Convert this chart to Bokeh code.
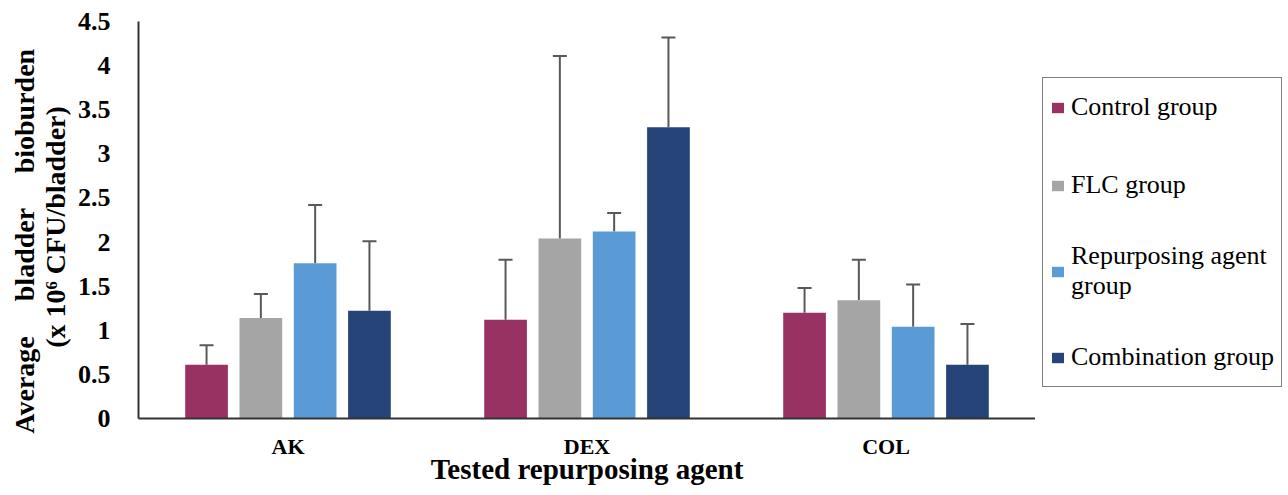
from bokeh.plotting import figure
from bokeh.layouts import row
from bokeh.models import (ColumnDataSource, FactorRange, Range1d, FixedTicker, Whisker, TeeHead,
                          Legend, LegendItem)
from bokeh.transform import dodge
from bokeh.embed import file_html
from bokeh.resources import INLINE

agents = ["AK", "DEX", "COL"]
groups = ["Control group", "FLC group", "Repurposing agent\ngroup", "Combination group"]
control = [0.61, 1.12, 1.20]
control_err = [0.22, 0.68, 0.28]
flc = [1.14, 2.04, 1.34]
flc_err = [0.27, 2.07, 0.46]
rep = [1.76, 2.12, 1.04]
rep_err = [0.66, 0.21, 0.48]
comb = [1.22, 3.30, 0.61]
comb_err = [0.79, 1.02, 0.46]
y_ticks = [0, 0.5, 1, 1.5, 2, 2.5, 3, 3.5, 4, 4.5]
y_tick_labels = ["0", "0.5", "1", "1.5", "2", "2.5", "3", "3.5", "4", "4.5"]

colors = ["#983263", "#A5A5A5", "#5B9BD5", "#264478"]
offsets = [-0.2724, -0.0908, 0.0908, 0.2724]
series = [(control, control_err), (flc, flc_err), (rep, rep_err), (comb, comb_err)]

SERIF = "Liberation Serif"
H = 487

p = figure(width=1035, height=H, x_range=FactorRange(*agents, range_padding=0),
           y_range=Range1d(0, 4.5), output_backend="svg", toolbar_location=None,
           min_border_left=138, min_border_right=0, min_border_top=21, min_border_bottom=69)
p.outline_line_color = None
p.xgrid.grid_line_color = None
p.ygrid.grid_line_color = None
p.background_fill_color = "white"
p.border_fill_color = "white"

# legend panel as a separate, axis-less figure
pl = figure(width=250, height=H, x_range=Range1d(0, 1), y_range=Range1d(0, 1),
            output_backend="svg", toolbar_location=None, x_axis_location=None,
            y_axis_location=None, min_border=0)
pl.outline_line_color = None
pl.xgrid.grid_line_color = None
pl.ygrid.grid_line_color = None

items = []
for (vals, errs), col, off, name in zip(series, colors, offsets, groups):
    src = ColumnDataSource(dict(agent=agents, top=vals, hi=[v + e for v, e in zip(vals, errs)]))
    p.vbar(x=dodge("agent", off, range=p.x_range), top="top", width=0.1428, source=src,
           fill_color=col, line_color=None)
    w = Whisker(base=dodge("agent", off, range=p.x_range), lower="top", upper="hi", source=src,
                line_color="#595959", line_width=2, lower_head=None,
                upper_head=TeeHead(size=14, line_color="#595959", line_width=2))
    p.add_layout(w)
    # zero-height proxy bar: only supplies the legend swatch
    proxy = pl.vbar(x=[0], top=[0], width=0.01, fill_color=col, line_color=None)
    items.append(LegendItem(label=name, renderers=[proxy]))

# axes
p.yaxis.ticker = FixedTicker(ticks=y_ticks)
p.yaxis.major_label_overrides = dict(zip(y_ticks, y_tick_labels))
p.yaxis.major_tick_line_color = None
p.yaxis.minor_tick_line_color = None
p.yaxis.axis_line_color = "#333333"
p.yaxis.axis_line_width = 2
p.yaxis.major_label_standoff = 22
p.yaxis.major_label_text_font = SERIF
p.yaxis.major_label_text_font_style = "bold"
p.yaxis.major_label_text_font_size = "26px"
p.yaxis.major_label_text_color = "black"
p.yaxis.axis_label = "Average \u2003bladder \u2003bioburden\u2003\u2002\n(x 10\u2076 CFU/bladder)\u2002"
p.yaxis.axis_label_text_font = SERIF
p.yaxis.axis_label_text_font_style = "bold"
p.yaxis.axis_label_text_font_size = "28px"
p.yaxis.axis_label_text_line_height = 1.0
p.yaxis.axis_label_text_color = "black"
p.yaxis.axis_label_standoff = 4

p.xaxis.major_tick_line_color = None
p.xaxis.minor_tick_line_color = None
p.xaxis.axis_line_color = "#333333"
p.xaxis.axis_line_width = 2
p.xaxis.major_label_standoff = 9
p.xaxis.major_label_text_font = SERIF
p.xaxis.major_label_text_font_style = "bold"
p.xaxis.major_label_text_font_size = "22px"
p.xaxis.major_label_text_color = "black"
p.xaxis.axis_label = "Tested repurposing agent"
p.xaxis.axis_label_text_font = SERIF
p.xaxis.axis_label_text_font_style = "bold"
p.xaxis.axis_label_text_font_size = "29px"
p.xaxis.axis_label_text_color = "black"
p.xaxis.axis_label_standoff = -9

legend = Legend(items=items, location=(7, 31), orientation="vertical",
                border_line_color="black", border_line_width=1.5, background_fill_color="white",
                background_fill_alpha=1, label_text_font=SERIF, label_text_font_size="26px",
                label_text_color="black", glyph_width=15, glyph_height=13, label_standoff=6,
                padding=7, spacing=34, label_height=44, label_text_line_height=1.1, margin=0)
pl.add_layout(legend)

layout = row(p, pl, spacing=0)
open("out.html", "w").write(file_html(layout, INLINE))
